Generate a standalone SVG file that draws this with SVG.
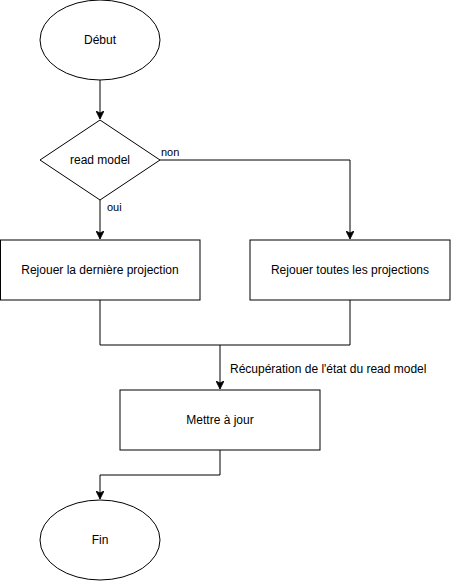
<svg xmlns="http://www.w3.org/2000/svg" width="451" height="581" viewBox="0 0 451 581">
<style>
.s{fill:#fff;stroke:#000;stroke-width:1}
.c{fill:none;stroke:#000;stroke-width:1}
.t{font-family:"Liberation Sans",Arial,sans-serif;font-size:12px;fill:#000;text-anchor:middle;dominant-baseline:central}
.l{font-family:"Liberation Sans",Arial,sans-serif;font-size:11px;fill:#000;dominant-baseline:central}
</style>
<defs>
<marker id="a" viewBox="0 0 10 10" refX="10" refY="5" markerWidth="8" markerHeight="8" markerUnits="userSpaceOnUse" orient="auto">
<path d="M0,0 L10,5 L0,10 L2.5,5 Z" fill="#000" stroke="#000"/>
</marker>
</defs>
<rect width="451" height="581" fill="#fff"/>
<g id="connectors">
<path class="c" d="M100,80 V119" marker-end="url(#a)"/>
<path class="c" d="M160,160 H350 V239" marker-end="url(#a)"/>
<path class="c" d="M100,200 V239" marker-end="url(#a)"/>
<path class="c" d="M100,300 V345 H350 V300"/>
<path class="c" d="M220,345 V389" marker-end="url(#a)"/>
<path class="c" d="M220,450 V475 H100 V499" marker-end="url(#a)"/>
<text class="l" x="161" y="152">non</text>
<text class="l" x="107" y="207">oui</text>
<text class="l" x="230" y="369" style="font-size:12px">Récupération de l'état du read model</text>
</g>
<g id="debut"><ellipse class="s" cx="100" cy="40" rx="60" ry="40"/><text class="t" x="100" y="40">Début</text></g>
<g id="readmodel"><polygon class="s" points="100,120 160,160 100,200 40,160"/><text class="t" x="100" y="160">read model</text></g>
<g id="derniere"><rect class="s" x="0.5" y="240" width="199.5" height="60"/><text class="t" x="100" y="270">Rejouer la dernière projection</text></g>
<g id="toutes"><rect class="s" x="250" y="240" width="200" height="60"/><text class="t" x="350" y="270">Rejouer toutes les projections</text></g>
<g id="maj"><rect class="s" x="120" y="390" width="200" height="60"/><text class="t" x="220" y="420">Mettre à jour</text></g>
<g id="fin"><ellipse class="s" cx="100" cy="540" rx="60" ry="40"/><text class="t" x="100" y="540">Fin</text></g>
</svg>
